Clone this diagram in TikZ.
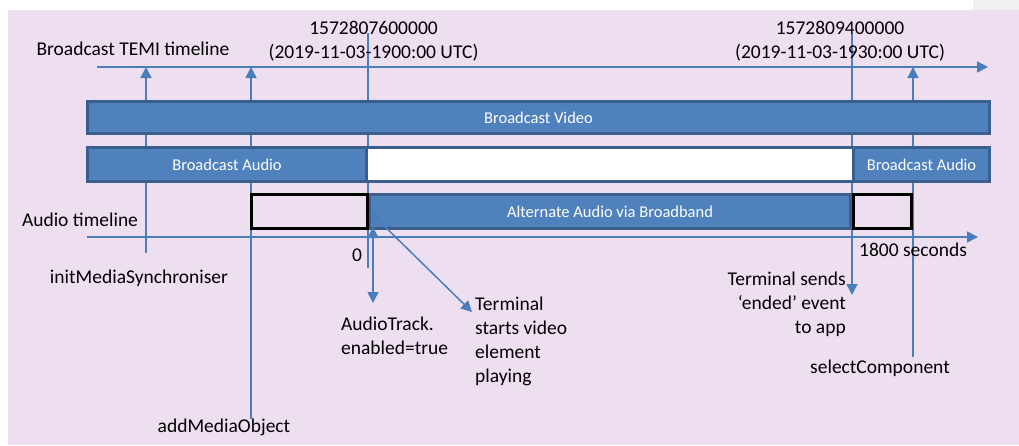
\documentclass[tikz,border=0pt]{standalone}
\usepackage{fontspec}
\setmainfont{Carlito}
\usetikzlibrary{arrows.meta,positioning}
\definecolor{bgLav}{HTML}{EEDFF0}
\definecolor{barFill}{HTML}{4F81BD}
\definecolor{barLine}{HTML}{3A5F8F}
\definecolor{linkBlue}{HTML}{4A7EBB}
\tikzset{
  bar/.style={draw=barLine, line width=3pt, fill=barFill, text=white,
    font=\fontsize{16.5}{20}\selectfont, inner sep=0pt, minimum height=34pt},
  gap/.style={bar, fill=white},
  marker/.style={draw=black, line width=3.5pt, inner sep=0pt, minimum height=34pt},
  lbl/.style={font=\fontsize{19.5}{24}\selectfont, inner sep=0pt, text=black},
  link/.style={draw=linkBlue, line width=1.5pt},
  tip/.style={link, -{Triangle[length=11pt,width=11pt]}},
  both tips/.style={link, {Triangle[length=11pt,width=11pt]}-{Triangle[length=11pt,width=11pt]}},
}

\begin{document}
\begin{tikzpicture}[x=1pt, y=-1pt]
  \useasboundingbox (0,0) rectangle (1019,445);
  % Background
  \fill[bgLav] (8,10) rectangle (1019,445);
  \fill[black!6] (973,0) rectangle (1019,10);

  % Timeline end points
  \coordinate (temiStart) at (97,67);
  \coordinate (temiEnd) at (988,67);
  \coordinate (audioStart) at (87,237);
  \coordinate (audioEnd) at (978,237);

  % Markers behind the bars
  \coordinate (startTop) at (368,33);
  \coordinate (startFoot) at (368,268);
  \coordinate (endTop) at (852,33);
  \coordinate (endFoot) at (852,295);
  \coordinate (initFoot) at (146,253);
  \coordinate (initHead) at (146,67);
  \coordinate (addFoot) at (251,419);
  \coordinate (addHead) at (251,67);
  \coordinate (selFoot) at (913,357);
  \coordinate (selHead) at (913,67);
  \draw[link] (startTop) -- (startFoot);
  \draw[tip] (endTop) -- (endFoot);
  \draw[tip] (initFoot) -- (initHead);
  \draw[tip] (addFoot) -- (addHead);
  \draw[tip] (selFoot) -- (selHead);

  % Timelines
  \draw[tip] (temiStart) -- (temiEnd);
  \draw[tip] (audioStart) -- (audioEnd);

  % Bars
  \node[bar, minimum width=902pt, minimum height=32pt] (video) at (538.5,117.5) {Broadcast Video};
  \node[gap, minimum width=902pt] (audioRow) at (538.5,164.5) {};
  \node[bar, minimum width=279pt] (bcAudioA) at (227,164.5) {Broadcast Audio};
  \node[bar, minimum width=136pt] (bcAudioB) at (921.5,164.5) {Broadcast Audio};
  \node[bar, minimum width=481pt] (altAudio) at (610,211.5) {Alternate Audio via Broadband};
  \node[marker, minimum width=116pt] (preRoll) at (309.5,211.5) {};
  \node[marker, minimum width=58pt] (postRoll) at (882.5,211.5) {};

  % Labels
  \node[lbl] (temiLbl) at (133,49) {Broadcast TEMI timeline};
  \node[lbl, align=center] (startLbl) at (373.5,41) {1572807600000\\(2019-11-03-1900:00 UTC)};
  \node[lbl, align=center] (endLbl) at (840,41) {1572809400000\\(2019-11-03-1930:00 UTC)};
  \node[lbl] (audioLbl) at (80,220) {Audio timeline};
  \node[lbl] (zeroLbl) at (357,255) {0};
  \node[lbl] (secLbl) at (913,250) {1800 seconds};
  \node[lbl] (initLbl) at (139,278) {initMediaSynchroniser};
  \node[lbl] (addLbl) at (224,427) {addMediaObject};
  \node[lbl, align=left, anchor=west] (trackLbl) at (341,335.5) {AudioTrack.\\enabled=true};
  \node[lbl, align=left, anchor=west] (playLbl) at (475,341.5) {Terminal\\starts video\\element\\playing};
  \node[lbl, align=right, anchor=east] (endedLbl) at (846,304) {Terminal sends\\‘ended’ event\\to app};
  \node[lbl] (selLbl) at (880,368) {selectComponent};

  % Arrows at the switch to broadband audio
  \coordinate (trackTop) at (373,227);
  \coordinate (trackFoot) at (373,303);
  \coordinate (playTop) at (370,212);
  \coordinate (playFoot) at (472,312);
  \draw[both tips] (trackTop) -- (trackFoot);
  \draw[both tips] (playTop) -- (playFoot);
\end{tikzpicture}
\end{document}
